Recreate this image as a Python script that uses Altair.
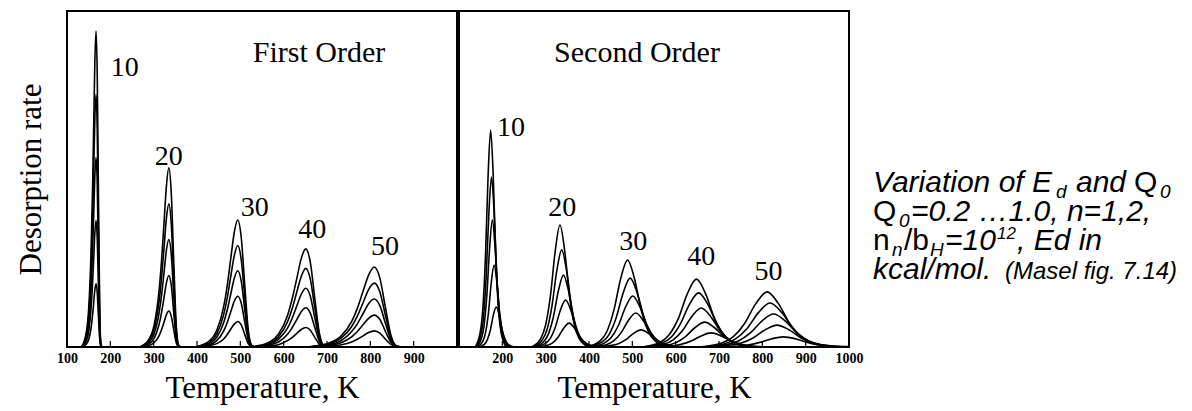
import altair as alt
import pandas as pd

# ---------------- data ----------------
ED = [10, 20, 30, 40, 50]                 # desorption energy, kcal/mol
COVERAGE = [0.2, 0.4, 0.6, 0.8, 1.0]      # initial coverage Q0

# First order: temperature grid per Ed group, rate per coverage (0.2 -> 1.0)
FO_T_10 = [133.8, 144.8, 150.4, 155.9, 158.7, 161.5, 164.2, 167.0, 169.8, 172.5, 175.3, 178.1, 180.9]
FO_R_10 = [
    [0, 0.9, 2.4, 6.0, 9.1, 13.0, 16.9, 18.8, 16.2, 9.2, 2.6, 0.2, 0],
    [0, 1.8, 4.9, 12.1, 18.2, 26.0, 33.8, 37.6, 32.4, 18.3, 5.2, 0.5, 0],
    [0, 2.8, 7.3, 18.1, 27.4, 39.0, 50.7, 56.4, 48.6, 27.5, 7.8, 0.7, 0],
    [0, 3.7, 9.7, 24.1, 36.5, 52.0, 67.6, 75.2, 64.8, 36.7, 10.4, 0.9, 0],
    [0, 4.6, 12.1, 30.2, 45.6, 65.0, 84.5, 94.0, 81.0, 45.9, 13.0, 1.1, 0],
]
FO_T_20 = [268.1, 290.4, 301.6, 312.7, 318.3, 323.9, 329.4, 335.0, 340.6, 346.2, 351.7, 357.3, 362.9]
FO_R_20 = [
    [0, 0.5, 1.4, 3.4, 5.2, 7.4, 9.6, 10.7, 9.2, 5.2, 1.5, 0.1, 0],
    [0, 1.0, 2.7, 6.8, 10.3, 14.7, 19.1, 21.3, 18.4, 10.4, 2.9, 0.3, 0],
    [0, 1.6, 4.1, 10.3, 15.5, 22.1, 28.8, 32.0, 27.6, 15.6, 4.4, 0.4, 0],
    [0, 2.1, 5.5, 13.7, 20.7, 29.5, 38.3, 42.6, 36.7, 20.8, 5.9, 0.5, 0],
    [0, 2.6, 6.9, 17.1, 25.9, 36.9, 47.9, 53.3, 45.9, 26.0, 7.4, 0.6, 0],
]
FO_T_30 = [397.0, 429.4, 445.5, 461.7, 469.8, 477.8, 485.9, 494.0, 502.1, 510.2, 518.2, 526.3, 534.4]
FO_R_30 = [
    [0, 0.4, 1.0, 2.4, 3.7, 5.3, 6.8, 7.6, 6.6, 3.7, 1.0, 0.1, 0],
    [0, 0.7, 1.9, 4.8, 7.3, 10.4, 13.6, 15.1, 13.0, 7.4, 2.1, 0.2, 0],
    [0, 1.1, 2.9, 7.3, 11.0, 15.7, 20.4, 22.7, 19.6, 11.1, 3.1, 0.3, 0],
    [0, 1.5, 3.9, 9.7, 14.6, 20.9, 27.1, 30.2, 26.0, 14.7, 4.2, 0.4, 0],
    [0, 1.9, 4.9, 12.1, 18.3, 26.2, 34.0, 37.8, 32.6, 18.4, 5.2, 0.5, 0],
]
FO_T_40 = [524.7, 566.8, 587.9, 608.9, 619.4, 630.0, 640.5, 651.0, 661.5, 672.1, 682.6, 693.1, 703.6]
FO_R_40 = [
    [0, 0.3, 0.7, 1.9, 2.8, 4.0, 5.2, 5.8, 5.0, 2.8, 0.8, 0.1, 0],
    [0, 0.6, 1.5, 3.8, 5.7, 8.1, 10.5, 11.7, 10.1, 5.7, 1.6, 0.1, 0],
    [0, 0.9, 2.3, 5.6, 8.5, 12.1, 15.7, 17.5, 15.1, 8.5, 2.4, 0.2, 0],
    [0, 1.1, 3.0, 7.5, 11.3, 16.2, 21.0, 23.4, 20.2, 11.4, 3.2, 0.3, 0],
    [0, 1.4, 3.8, 9.4, 14.2, 20.2, 26.3, 29.2, 25.2, 14.2, 4.0, 0.4, 0],
]
FO_T_50 = [653.0, 705.0, 731.0, 757.0, 770.0, 783.0, 796.0, 809.0, 822.0, 835.0, 848.0, 861.0, 874.0]
FO_R_50 = [
    [0, 0.2, 0.6, 1.5, 2.3, 3.3, 4.3, 4.8, 4.1, 2.3, 0.7, 0.1, 0],
    [0, 0.5, 1.2, 3.0, 4.6, 6.6, 8.5, 9.5, 8.2, 4.6, 1.3, 0.1, 0],
    [0, 0.7, 1.8, 4.6, 6.9, 9.9, 12.9, 14.3, 12.3, 7.0, 2.0, 0.2, 0],
    [0, 0.9, 2.5, 6.1, 9.2, 13.1, 17.1, 19.0, 16.4, 9.3, 2.6, 0.2, 0],
    [0, 1.2, 3.1, 7.6, 11.5, 16.5, 21.4, 23.8, 20.5, 11.6, 3.3, 0.3, 0],
]

# Second order: temperature and rate per coverage (0.2 -> 1.0)
SO_T_10 = [
    [144.8, 158.5, 165.4, 172.3, 179.1, 186.0, 192.9, 199.7, 206.6, 213.5, 227.2],
    [141.9, 155.0, 161.5, 168.0, 174.5, 181.0, 187.5, 194.0, 200.5, 207.0, 220.1],
    [139.6, 152.1, 158.3, 164.5, 170.8, 177.0, 183.2, 189.5, 195.7, 201.9, 214.4],
    [138.5, 150.6, 156.7, 162.8, 168.9, 175.0, 181.1, 187.2, 193.3, 199.4, 211.5],
    [137.3, 149.2, 155.2, 161.1, 167.1, 173.0, 179.0, 184.9, 190.9, 196.8, 208.7],
]
SO_R_10 = [
    [0, 0.8, 2.2, 5.0, 9.4, 11.9, 9.4, 5.0, 2.2, 0.8, 0],
    [0, 1.7, 4.4, 10.2, 19.2, 24.4, 19.2, 10.2, 4.4, 1.7, 0],
    [0, 2.7, 6.8, 15.9, 29.7, 37.8, 29.7, 15.9, 6.8, 2.7, 0],
    [0, 3.6, 9.2, 21.3, 39.8, 50.6, 39.8, 21.3, 9.2, 3.6, 0],
    [0, 4.6, 11.7, 27.1, 50.8, 64.6, 50.8, 27.1, 11.7, 4.6, 0],
]
SO_T_20 = [
    [279.3, 304.2, 316.7, 329.1, 341.6, 354.0, 366.5, 378.9, 391.4, 403.8, 428.7],
    [274.7, 298.4, 310.3, 322.2, 334.1, 346.0, 357.9, 369.8, 381.7, 393.6, 417.3],
    [271.7, 294.8, 306.4, 317.9, 329.5, 341.0, 352.6, 364.1, 375.7, 387.2, 410.3],
    [269.3, 291.9, 303.2, 314.4, 325.7, 337.0, 348.3, 359.6, 370.8, 382.1, 404.7],
    [266.9, 288.9, 299.9, 311.0, 322.0, 333.0, 344.0, 355.0, 366.1, 377.1, 399.1],
]
SO_R_20 = [
    [0, 0.5, 1.3, 3.0, 5.6, 7.1, 5.6, 3.0, 1.3, 0.5, 0],
    [0, 1.0, 2.5, 5.9, 11.0, 14.0, 11.0, 5.9, 2.5, 1.0, 0],
    [0, 1.5, 3.9, 9.0, 16.8, 21.4, 16.8, 9.0, 3.9, 1.5, 0],
    [0, 2.1, 5.2, 12.1, 22.7, 28.9, 22.7, 12.1, 5.2, 2.1, 0],
    [0, 2.6, 6.6, 15.2, 28.5, 36.3, 28.5, 15.2, 6.6, 2.6, 0],
]
SO_T_30 = [
    [412.5, 448.4, 466.3, 484.2, 502.1, 520.0, 537.9, 555.8, 573.7, 591.6, 627.5],
    [405.5, 439.6, 456.7, 473.8, 490.9, 508.0, 525.1, 542.2, 559.3, 576.4, 610.5],
    [401.3, 434.5, 451.1, 467.8, 484.4, 501.0, 517.6, 534.2, 550.9, 567.5, 600.7],
    [397.6, 430.1, 446.3, 462.5, 478.8, 495.0, 511.2, 527.5, 543.7, 559.9, 592.4],
    [394.0, 425.6, 441.5, 457.3, 473.2, 489.0, 504.8, 520.7, 536.5, 552.4, 584.0],
]
SO_R_30 = [
    [0, 0.4, 0.9, 2.1, 4.0, 5.1, 4.0, 2.1, 0.9, 0.4, 0],
    [0, 0.7, 1.8, 4.2, 7.9, 10.1, 7.9, 4.2, 1.8, 0.7, 0],
    [0, 1.1, 2.8, 6.4, 11.9, 15.2, 11.9, 6.4, 2.8, 1.1, 0],
    [0, 1.5, 3.7, 8.6, 16.1, 20.5, 16.1, 8.6, 3.7, 1.5, 0],
    [0, 1.8, 4.7, 10.9, 20.4, 25.9, 20.4, 10.9, 4.7, 1.8, 0],
]
SO_T_40 = [
    [543.3, 589.6, 612.7, 635.8, 658.9, 682.0, 705.1, 728.2, 751.3, 774.4, 820.7],
    [534.4, 578.6, 600.7, 622.8, 644.9, 667.0, 689.1, 711.2, 733.3, 755.4, 799.6],
    [529.6, 572.7, 594.3, 615.9, 637.4, 659.0, 680.6, 702.1, 723.7, 745.3, 788.4],
    [525.9, 568.3, 589.5, 610.6, 631.8, 653.0, 674.2, 695.4, 716.5, 737.7, 780.1],
    [522.8, 564.6, 585.4, 606.3, 627.1, 648.0, 668.9, 689.7, 710.6, 731.4, 773.2],
]
SO_R_40 = [
    [0, 0.3, 0.8, 1.8, 3.3, 4.2, 3.3, 1.8, 0.8, 0.3, 0],
    [0, 0.5, 1.3, 3.1, 5.8, 7.4, 5.8, 3.1, 1.3, 0.5, 0],
    [0, 0.8, 2.1, 4.9, 9.1, 11.6, 9.1, 4.9, 2.1, 0.8, 0],
    [0, 1.1, 2.9, 6.8, 12.7, 16.1, 12.7, 6.8, 2.9, 1.1, 0],
    [0, 1.4, 3.7, 8.5, 15.9, 20.2, 15.9, 8.5, 3.7, 1.4, 0],
]
SO_T_50 = [
    [677.2, 734.4, 763.1, 791.7, 820.4, 849.0, 877.6, 906.3, 934.9, 963.6, 1000.0],
    [668.2, 723.4, 751.1, 778.7, 806.4, 834.0, 861.6, 889.3, 916.9, 944.6, 999.8],
    [663.3, 717.6, 744.7, 771.8, 798.9, 826.0, 853.1, 880.2, 907.3, 934.4, 988.7],
    [658.5, 711.6, 738.2, 764.8, 791.4, 818.0, 844.6, 871.2, 897.8, 924.4, 977.5],
    [654.2, 706.4, 732.6, 758.7, 784.9, 811.0, 837.1, 863.3, 889.4, 915.6, 967.8],
]
SO_R_50 = [
    [0, 0.2, 0.5, 1.3, 2.4, 3.0, 2.4, 1.3, 0.5, 0.2, 0.1],
    [0, 0.5, 1.2, 2.7, 5.1, 6.5, 5.1, 2.7, 1.2, 0.5, 0],
    [0, 0.7, 1.8, 4.1, 7.7, 9.8, 7.7, 4.1, 1.8, 0.7, 0],
    [0, 0.9, 2.4, 5.5, 10.3, 13.1, 10.3, 5.5, 2.4, 0.9, 0],
    [0, 1.2, 3.0, 6.9, 12.9, 16.4, 12.9, 6.9, 3.0, 1.2, 0],
]

# Peak labels (Ed values) placed in data units
FO_LABEL_T = [233, 335, 533, 666, 834]
FO_LABEL_R = [83.0, 56.5, 41.4, 34.8, 29.8]
SO_LABEL_T = [220, 338, 502, 659, 814]
SO_LABEL_R = [65.2, 41.4, 31.3, 26.8, 22.3]

LEFT_TICK_LABELS = [100, 200, 300, 400, 500, 600, 700, 800, 900]
RIGHT_TICK_LABELS = [200, 300, 400, 500, 600, 700, 800, 900, 1000]
TICK_MARKS = [200, 300, 400, 500, 600, 700, 800, 900]

PANEL_TITLES = ["First Order", "Second Order"]

# ---------------- tables ----------------
fo_T = [FO_T_10, FO_T_20, FO_T_30, FO_T_40, FO_T_50]
fo_R = [FO_R_10, FO_R_20, FO_R_30, FO_R_40, FO_R_50]
so_T = [SO_T_10, SO_T_20, SO_T_30, SO_T_40, SO_T_50]
so_R = [SO_R_10, SO_R_20, SO_R_30, SO_R_40, SO_R_50]

rows_fo, rows_so = [], []
for g, ed in enumerate(ED):
    for c, cov in enumerate(COVERAGE):
        for i, (t, r) in enumerate(zip(fo_T[g], fo_R[g][c])):
            rows_fo.append({"curve": f"{ed}-{cov}", "i": i, "T": t, "rate": r})
        for i, (t, r) in enumerate(zip(so_T[g][c], so_R[g][c])):
            rows_so.append({"curve": f"{ed}-{cov}", "i": i, "T": t, "rate": r})
df_fo = pd.DataFrame(rows_fo)
df_so = pd.DataFrame(rows_so)

lab_fo = pd.DataFrame({"T": FO_LABEL_T, "rate": FO_LABEL_R, "txt": [str(e) for e in ED]})
lab_so = pd.DataFrame({"T": SO_LABEL_T, "rate": SO_LABEL_R, "txt": [str(e) for e in ED]})
ticks_df = pd.DataFrame({"T": TICK_MARKS})

W, H = 390, 336
SERIF = "Liberation Serif"
ITAL = "Liberation Sans"
SANS = "Liberation Sans"


def xenc(values):
    return alt.X(
        "T:Q",
        scale=alt.Scale(domain=[100, 1000], nice=False, zero=False),
        axis=alt.Axis(
            values=values, format="d", ticks=False, domain=False, grid=False,
            labelFlush=False, labelOverlap=False, labelPadding=4,
            labelFontSize=14, labelFontWeight="bold",
            title="Temperature, K", titlePadding=8, titleFontSize=31,
        ),
    )


def yenc(left):
    ax = alt.Axis(title="Desorption rate", labels=False, ticks=False, domain=False,
                  grid=False, titleFontSize=31, titlePadding=20) if left else None
    return alt.Y("rate:Q", scale=alt.Scale(domain=[0, 100], nice=False), axis=ax)


def seg(text, x, y, size, font=ITAL, style="italic"):
    return alt.Chart(pd.DataFrame({"t": [text]})).mark_text(
        font=font, fontSize=size, fontStyle=style, align="left",
        baseline="alphabetic", color="black",
    ).encode(x=alt.value(x), y=alt.value(y), text="t:N")


def panel(df, lab, values, left, title, title_x):
    lines = alt.Chart(df).mark_line(color="black", strokeWidth=1.6, interpolate="monotone").encode(
        x=xenc(values), y=yenc(left), detail="curve:N", order=alt.Order("i:Q"))
    ticks = alt.Chart(ticks_df).mark_rule(color="black", strokeWidth=1.2).encode(
        x=xenc(values), y=alt.value(H), y2=alt.value(H - 6))
    labels = alt.Chart(lab).mark_text(font=SERIF, fontSize=28, color="black",
                                      align="center", baseline="middle").encode(
        x=xenc(values), y=yenc(left), text="txt:N")
    ttl = alt.Chart(pd.DataFrame({"t": [title]})).mark_text(
        font=SERIF, fontSize=30, color="black", align="center", baseline="middle").encode(
        x=alt.value(title_x), y=alt.value(42), text="t:N")
    return alt.layer(lines, ticks, labels, ttl)


left = panel(df_fo, lab_fo, LEFT_TICK_LABELS, True, PANEL_TITLES[0], 252).properties(width=W, height=H)

# annotation to the right of the second panel
x0 = 414
y1, y2, y3, y4 = 181, 210, 239, 268
notes = [
    seg("Variation of E", x0, y1, 30),
    seg("d", x0 + 183, y1 + 6, 19),
    seg("and", x0 + 203, y1, 30),
    seg("Q", x0 + 261, y1, 30, SANS, "normal"),
    seg("0", x0 + 287, y1 + 6, 19),
    seg("Q", x0, y2, 30, SANS, "normal"),
    seg("0", x0 + 26, y2 + 6, 19),
    seg("=0.2 …1.0, n=1,2,", x0 + 38, y2, 30),
    seg("n", x0, y3, 30, SANS, "normal"),
    seg("n", x0 + 19, y3 + 6, 19),
    seg("/b", x0 + 31, y3, 30, SANS, "normal"),
    seg("H", x0 + 57, y3 + 6, 19),
    seg("=10", x0 + 72, y3, 30),
    seg("12", x0 + 124, y3 - 11, 17),
    seg(", Ed in", x0 + 144, y3, 30),
    seg("kcal/mol.", x0, y4, 30),
    seg("(Masel fig. 7.14)", x0 + 132, y4, 24),
]
right = alt.layer(panel(df_so, lab_so, RIGHT_TICK_LABELS, False, PANEL_TITLES[1], 178), *notes).properties(width=W, height=H)

chart = alt.hconcat(left, right, spacing=0).configure_axis(
    labelFont=SERIF, titleFont=SERIF, titleFontWeight="normal",
    labelColor="black", titleColor="black",
).configure_view(stroke="black", strokeWidth=2).properties(
    padding={"left": 14, "top": 10, "right": 5, "bottom": 5},
    background="white",
)

chart.save("out.html", embed_options={"renderer": "svg", "actions": False})
